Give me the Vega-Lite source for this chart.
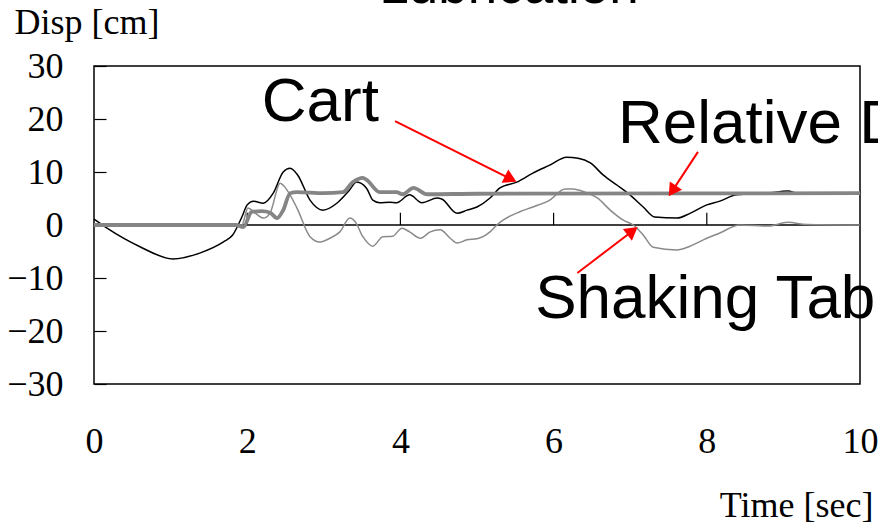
{
  "$schema": "https://vega.github.io/schema/vega-lite/v6.json",
  "autosize": {"type": "none"},
  "padding": {"left": 94, "top": 66, "right": 18, "bottom": 142},
  "width": 766,
  "height": 318,
  "background": "white",
  "config": {
    "view": {"stroke": "black", "strokeWidth": 1.5},
    "axis": {"grid": false}
  },
  "title": {
    "text": "Lubrication",
    "font": "Liberation Sans",
    "fontSize": 53,
    "fontWeight": "normal",
    "color": "black",
    "anchor": "middle",
    "frame": "group",
    "baseline": "alphabetic",
    "offset": 0,
    "dx": 32,
    "dy": 52
  },
  "datasets": {
    "series": [
      {"s": "Table", "t": 0, "v": 0}, {"s": "Table", "t": 1.93, "v": 0}, {"s": "Table", "t": 2.01, "v": 3.2}, {"s": "Table", "t": 2.1, "v": 2.3},
      {"s": "Table", "t": 2.21, "v": 1.3}, {"s": "Table", "t": 2.3, "v": 2.3}, {"s": "Table", "t": 2.43, "v": 7.9}, {"s": "Table", "t": 2.47, "v": 7.5},
      {"s": "Table", "t": 2.65, "v": 3.2}, {"s": "Table", "t": 2.82, "v": -2.2}, {"s": "Table", "t": 2.95, "v": -3.2}, {"s": "Table", "t": 3.08, "v": -2.5},
      {"s": "Table", "t": 3.21, "v": -1.3}, {"s": "Table", "t": 3.34, "v": 1.3}, {"s": "Table", "t": 3.41, "v": 0.6}, {"s": "Table", "t": 3.51, "v": -2.2},
      {"s": "Table", "t": 3.64, "v": -4.0}, {"s": "Table", "t": 3.77, "v": -2.2}, {"s": "Table", "t": 3.9, "v": -2.1}, {"s": "Table", "t": 4.02, "v": -0.6},
      {"s": "Table", "t": 4.12, "v": -1.3}, {"s": "Table", "t": 4.26, "v": -2.5}, {"s": "Table", "t": 4.39, "v": -1.3}, {"s": "Table", "t": 4.52, "v": -0.9},
      {"s": "Table", "t": 4.65, "v": -2.5}, {"s": "Table", "t": 4.74, "v": -3.4}, {"s": "Table", "t": 4.87, "v": -2.8}, {"s": "Table", "t": 5.0, "v": -2.6},
      {"s": "Table", "t": 5.17, "v": -1.3}, {"s": "Table", "t": 5.26, "v": 0}, {"s": "Table", "t": 5.34, "v": 0.9}, {"s": "Table", "t": 5.56, "v": 2.5},
      {"s": "Table", "t": 5.73, "v": 3.4}, {"s": "Table", "t": 5.95, "v": 4.7}, {"s": "Table", "t": 6.15, "v": 6.8}, {"s": "Table", "t": 6.25, "v": 6.8},
      {"s": "Table", "t": 6.41, "v": 6.2}, {"s": "Table", "t": 6.57, "v": 5.1}, {"s": "Table", "t": 6.74, "v": 2.8}, {"s": "Table", "t": 6.91, "v": 0.9},
      {"s": "Table", "t": 7.04, "v": 0}, {"s": "Table", "t": 7.17, "v": -1.9}, {"s": "Table", "t": 7.3, "v": -4.2}, {"s": "Table", "t": 7.61, "v": -4.7},
      {"s": "Table", "t": 7.78, "v": -4.0}, {"s": "Table", "t": 8.0, "v": -2.5}, {"s": "Table", "t": 8.17, "v": -1.5}, {"s": "Table", "t": 8.43, "v": 0},
      {"s": "Table", "t": 8.8, "v": -0.2}, {"s": "Table", "t": 9.06, "v": 0.5}, {"s": "Table", "t": 9.3, "v": 0.1}, {"s": "Table", "t": 10, "v": 0},

      {"s": "Cart", "t": 0, "v": 1.1}, {"s": "Cart", "t": 0.17, "v": -0.6}, {"s": "Cart", "t": 0.6, "v": -4.1}, {"s": "Cart", "t": 1.03, "v": -6.4},
      {"s": "Cart", "t": 1.38, "v": -5.3}, {"s": "Cart", "t": 1.69, "v": -3.2}, {"s": "Cart", "t": 1.81, "v": -1.9}, {"s": "Cart", "t": 1.93, "v": 1.5},
      {"s": "Cart", "t": 2.0, "v": 3.8}, {"s": "Cart", "t": 2.08, "v": 4.5}, {"s": "Cart", "t": 2.21, "v": 4.1}, {"s": "Cart", "t": 2.34, "v": 6.0},
      {"s": "Cart", "t": 2.47, "v": 10.0}, {"s": "Cart", "t": 2.56, "v": 10.7}, {"s": "Cart", "t": 2.66, "v": 9.4}, {"s": "Cart", "t": 2.82, "v": 4.7},
      {"s": "Cart", "t": 2.99, "v": 2.8}, {"s": "Cart", "t": 3.17, "v": 4.1}, {"s": "Cart", "t": 3.32, "v": 6.3}, {"s": "Cart", "t": 3.43, "v": 8.1},
      {"s": "Cart", "t": 3.56, "v": 6.9}, {"s": "Cart", "t": 3.64, "v": 4.7}, {"s": "Cart", "t": 3.73, "v": 4.2}, {"s": "Cart", "t": 3.86, "v": 4.3},
      {"s": "Cart", "t": 3.95, "v": 4.2}, {"s": "Cart", "t": 4.12, "v": 5.7}, {"s": "Cart", "t": 4.28, "v": 4.2}, {"s": "Cart", "t": 4.48, "v": 5.1},
      {"s": "Cart", "t": 4.54, "v": 4.9}, {"s": "Cart", "t": 4.74, "v": 2.2}, {"s": "Cart", "t": 4.87, "v": 2.8}, {"s": "Cart", "t": 5.0, "v": 3.4},
      {"s": "Cart", "t": 5.17, "v": 5.1}, {"s": "Cart", "t": 5.3, "v": 7.0}, {"s": "Cart", "t": 5.52, "v": 8.1}, {"s": "Cart", "t": 5.73, "v": 9.8},
      {"s": "Cart", "t": 5.95, "v": 11.3}, {"s": "Cart", "t": 6.17, "v": 12.8}, {"s": "Cart", "t": 6.32, "v": 12.6}, {"s": "Cart", "t": 6.48, "v": 11.7},
      {"s": "Cart", "t": 6.65, "v": 9.4}, {"s": "Cart", "t": 6.83, "v": 7.5}, {"s": "Cart", "t": 6.97, "v": 6.0}, {"s": "Cart", "t": 7.17, "v": 3.4},
      {"s": "Cart", "t": 7.32, "v": 1.5}, {"s": "Cart", "t": 7.61, "v": 1.3}, {"s": "Cart", "t": 7.78, "v": 2.2}, {"s": "Cart", "t": 8.0, "v": 3.8},
      {"s": "Cart", "t": 8.17, "v": 4.5}, {"s": "Cart", "t": 8.39, "v": 5.7}, {"s": "Cart", "t": 8.79, "v": 6.0}, {"s": "Cart", "t": 9.06, "v": 6.4},
      {"s": "Cart", "t": 9.19, "v": 6.0}, {"s": "Cart", "t": 10, "v": 6.0},

      {"s": "Relative", "t": 0, "v": 0}, {"s": "Relative", "t": 1.85, "v": 0}, {"s": "Relative", "t": 1.95, "v": -0.4}, {"s": "Relative", "t": 2.06, "v": 2.5},
      {"s": "Relative", "t": 2.19, "v": 2.6}, {"s": "Relative", "t": 2.3, "v": 2.3}, {"s": "Relative", "t": 2.39, "v": 1.3}, {"s": "Relative", "t": 2.47, "v": 2.8},
      {"s": "Relative", "t": 2.56, "v": 6.0}, {"s": "Relative", "t": 2.65, "v": 6.2}, {"s": "Relative", "t": 2.99, "v": 6.0}, {"s": "Relative", "t": 3.25, "v": 6.2},
      {"s": "Relative", "t": 3.38, "v": 8.1}, {"s": "Relative", "t": 3.51, "v": 8.9}, {"s": "Relative", "t": 3.56, "v": 8.5}, {"s": "Relative", "t": 3.73, "v": 6.2},
      {"s": "Relative", "t": 3.95, "v": 6.2}, {"s": "Relative", "t": 4.03, "v": 5.8}, {"s": "Relative", "t": 4.17, "v": 7.0}, {"s": "Relative", "t": 4.35, "v": 5.8},
      {"s": "Relative", "t": 5.0, "v": 5.9}, {"s": "Relative", "t": 10, "v": 6.0}
    ],
    "zero": [{"t": 0, "t2": 10, "v": 0}],
    "ticks": [{"t": 2, "v": 0, "v2": 2.3}, {"t": 4, "v": 0, "v2": 2.3}, {"t": 6, "v": 0, "v2": 2.3}, {"t": 8, "v": 0, "v2": 2.3}],
    "labels": [
      {"label": "Cart", "t": 2.19, "v": 19.6},
      {"label": "Relative Disp", "t": 6.84, "v": 15.5},
      {"label": "Shaking Table", "t": 5.76, "v": -17.5}
    ],
    "arrows": [
      {"t": 3.93, "v": 19.6, "t2": 5.44, "v2": 8.7, "a": 116.6},
      {"t": 7.885, "v": 13.8, "t2": 7.55, "v2": 6.43, "a": 214.3},
      {"t": 6.31, "v": -9.06, "t2": 7.03, "v2": -1.13, "a": 52.5}
    ]
  },
  "layer": [
    {
      "data": {"name": "zero"},
      "mark": {"type": "rule", "color": "black", "strokeWidth": 1.5},
      "encoding": {
        "x": {"field": "t", "type": "quantitative", "scale": {"domain": [0, 10], "nice": false},
          "axis": {"values": [0, 2, 4, 6, 8, 10], "format": "d", "ticks": false, "domain": false, "labelFont": "Liberation Serif", "labelFontSize": 36, "labelColor": "black", "labelPadding": 40, "labelBaseline": "top", "labelFlush": false, "labelOverlap": false,
            "title": "Time [sec]", "titleFont": "Liberation Serif", "titleFontSize": 36, "titleFontWeight": "normal", "titleColor": "black", "titleAnchor": "start", "titleAlign": "right", "titleBaseline": "alphabetic", "titleX": 779, "titleY": 132}},
        "x2": {"field": "t2"},
        "y": {"field": "v", "type": "quantitative", "scale": {"domain": [-30, 30], "nice": false},
          "axis": {"values": [-30, -20, -10, 0, 10, 20, 30], "format": "d", "domain": false, "tickSize": -12, "tickColor": "black", "tickWidth": 1.2, "labelFont": "Liberation Serif", "labelFontSize": 36, "labelColor": "black", "labelPadding": 43, "labelFlush": false, "labelOverlap": false,
            "title": "Disp [cm]", "titleFont": "Liberation Serif", "titleFontSize": 36, "titleFontWeight": "normal", "titleColor": "black", "titleAngle": 0, "titleAlign": "left", "titleBaseline": "alphabetic", "titleX": -80, "titleY": -33}}
      }
    },
    {
      "data": {"name": "ticks"},
      "mark": {"type": "rule", "color": "black", "strokeWidth": 1.2},
      "encoding": {
        "x": {"field": "t", "type": "quantitative"},
        "y": {"field": "v", "type": "quantitative"},
        "y2": {"field": "v2"}
      }
    },
    {
      "data": {"name": "series"},
      "transform": [{"filter": "datum.s === 'Table'"}],
      "mark": {"type": "line", "interpolate": "monotone", "color": "#8a8a8a", "strokeWidth": 1.5},
      "encoding": {
        "x": {"field": "t", "type": "quantitative"},
        "y": {"field": "v", "type": "quantitative"}
      }
    },
    {
      "data": {"name": "series"},
      "transform": [{"filter": "datum.s === 'Cart'"}],
      "mark": {"type": "line", "interpolate": "monotone", "color": "#000000", "strokeWidth": 1.5},
      "encoding": {
        "x": {"field": "t", "type": "quantitative"},
        "y": {"field": "v", "type": "quantitative"}
      }
    },
    {
      "data": {"name": "series"},
      "transform": [{"filter": "datum.s === 'Relative'"}],
      "mark": {"type": "line", "interpolate": "monotone", "color": "#858585", "strokeWidth": 3.8},
      "encoding": {
        "x": {"field": "t", "type": "quantitative"},
        "y": {"field": "v", "type": "quantitative"}
      }
    },
    {
      "data": {"name": "arrows"},
      "mark": {"type": "rule", "color": "#ff0000", "strokeWidth": 2},
      "encoding": {
        "x": {"field": "t", "type": "quantitative"},
        "y": {"field": "v", "type": "quantitative"},
        "x2": {"field": "t2"},
        "y2": {"field": "v2"}
      }
    },
    {
      "data": {"name": "arrows"},
      "mark": {"type": "point", "shape": "triangle-up", "filled": true, "color": "#ff0000", "size": 220, "opacity": 1},
      "encoding": {
        "x": {"field": "t2", "type": "quantitative"},
        "y": {"field": "v2", "type": "quantitative"},
        "angle": {"field": "a", "type": "quantitative", "scale": null}
      }
    },
    {
      "data": {"name": "labels"},
      "mark": {"type": "text", "font": "Liberation Sans", "fontSize": 62, "align": "left", "baseline": "alphabetic", "color": "black"},
      "encoding": {
        "x": {"field": "t", "type": "quantitative"},
        "y": {"field": "v", "type": "quantitative"},
        "text": {"field": "label"}
      }
    }
  ]
}
